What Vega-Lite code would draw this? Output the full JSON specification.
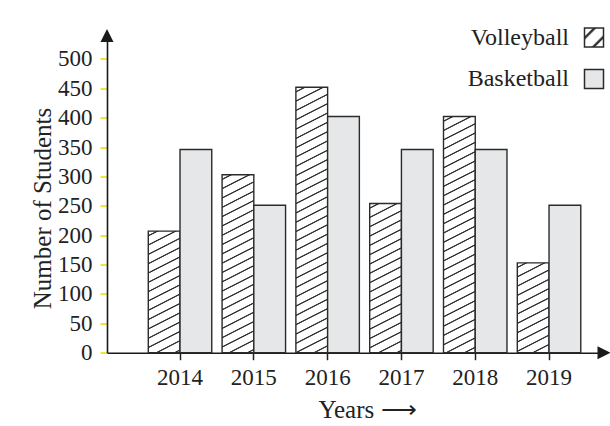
{
  "$schema": "https://vega.github.io/schema/vega-lite/v6.json",
  "width": 497,
  "height": 317.2,
  "autosize": {"type": "none"},
  "padding": {"left": 107, "top": 35.5, "right": 6, "bottom": 73.3},
  "background": "white",
  "params": [
    {"name": "hatchStops", "value": [
      {"offset":0.0119,"color":"#fff"},{"offset":0.0144,"color":"#333"},{"offset":0.0169,"color":"#333"},{"offset":0.0194,"color":"#fff"},
      {"offset":0.0431,"color":"#fff"},{"offset":0.0456,"color":"#333"},{"offset":0.0481,"color":"#333"},{"offset":0.0506,"color":"#fff"},
      {"offset":0.0744,"color":"#fff"},{"offset":0.0769,"color":"#333"},{"offset":0.0794,"color":"#333"},{"offset":0.0819,"color":"#fff"},
      {"offset":0.1056,"color":"#fff"},{"offset":0.1081,"color":"#333"},{"offset":0.1106,"color":"#333"},{"offset":0.1131,"color":"#fff"},
      {"offset":0.1369,"color":"#fff"},{"offset":0.1394,"color":"#333"},{"offset":0.1419,"color":"#333"},{"offset":0.1444,"color":"#fff"},
      {"offset":0.1681,"color":"#fff"},{"offset":0.1706,"color":"#333"},{"offset":0.1731,"color":"#333"},{"offset":0.1756,"color":"#fff"},
      {"offset":0.1994,"color":"#fff"},{"offset":0.2019,"color":"#333"},{"offset":0.2044,"color":"#333"},{"offset":0.2069,"color":"#fff"},
      {"offset":0.2306,"color":"#fff"},{"offset":0.2331,"color":"#333"},{"offset":0.2356,"color":"#333"},{"offset":0.2381,"color":"#fff"},
      {"offset":0.2619,"color":"#fff"},{"offset":0.2644,"color":"#333"},{"offset":0.2669,"color":"#333"},{"offset":0.2694,"color":"#fff"},
      {"offset":0.2931,"color":"#fff"},{"offset":0.2956,"color":"#333"},{"offset":0.2981,"color":"#333"},{"offset":0.3006,"color":"#fff"},
      {"offset":0.3244,"color":"#fff"},{"offset":0.3269,"color":"#333"},{"offset":0.3294,"color":"#333"},{"offset":0.3319,"color":"#fff"},
      {"offset":0.3556,"color":"#fff"},{"offset":0.3581,"color":"#333"},{"offset":0.3606,"color":"#333"},{"offset":0.3631,"color":"#fff"},
      {"offset":0.3869,"color":"#fff"},{"offset":0.3894,"color":"#333"},{"offset":0.3919,"color":"#333"},{"offset":0.3944,"color":"#fff"},
      {"offset":0.4181,"color":"#fff"},{"offset":0.4206,"color":"#333"},{"offset":0.4231,"color":"#333"},{"offset":0.4256,"color":"#fff"},
      {"offset":0.4494,"color":"#fff"},{"offset":0.4519,"color":"#333"},{"offset":0.4544,"color":"#333"},{"offset":0.4569,"color":"#fff"},
      {"offset":0.4806,"color":"#fff"},{"offset":0.4831,"color":"#333"},{"offset":0.4856,"color":"#333"},{"offset":0.4881,"color":"#fff"},
      {"offset":0.5119,"color":"#fff"},{"offset":0.5144,"color":"#333"},{"offset":0.5169,"color":"#333"},{"offset":0.5194,"color":"#fff"},
      {"offset":0.5431,"color":"#fff"},{"offset":0.5456,"color":"#333"},{"offset":0.5481,"color":"#333"},{"offset":0.5506,"color":"#fff"},
      {"offset":0.5744,"color":"#fff"},{"offset":0.5769,"color":"#333"},{"offset":0.5794,"color":"#333"},{"offset":0.5819,"color":"#fff"},
      {"offset":0.6056,"color":"#fff"},{"offset":0.6081,"color":"#333"},{"offset":0.6106,"color":"#333"},{"offset":0.6131,"color":"#fff"},
      {"offset":0.6369,"color":"#fff"},{"offset":0.6394,"color":"#333"},{"offset":0.6419,"color":"#333"},{"offset":0.6444,"color":"#fff"},
      {"offset":0.6681,"color":"#fff"},{"offset":0.6706,"color":"#333"},{"offset":0.6731,"color":"#333"},{"offset":0.6756,"color":"#fff"},
      {"offset":0.6994,"color":"#fff"},{"offset":0.7019,"color":"#333"},{"offset":0.7044,"color":"#333"},{"offset":0.7069,"color":"#fff"},
      {"offset":0.7306,"color":"#fff"},{"offset":0.7331,"color":"#333"},{"offset":0.7356,"color":"#333"},{"offset":0.7381,"color":"#fff"},
      {"offset":0.7619,"color":"#fff"},{"offset":0.7644,"color":"#333"},{"offset":0.7669,"color":"#333"},{"offset":0.7694,"color":"#fff"},
      {"offset":0.7931,"color":"#fff"},{"offset":0.7956,"color":"#333"},{"offset":0.7981,"color":"#333"},{"offset":0.8006,"color":"#fff"},
      {"offset":0.8244,"color":"#fff"},{"offset":0.8269,"color":"#333"},{"offset":0.8294,"color":"#333"},{"offset":0.8319,"color":"#fff"},
      {"offset":0.8556,"color":"#fff"},{"offset":0.8581,"color":"#333"},{"offset":0.8606,"color":"#333"},{"offset":0.8631,"color":"#fff"},
      {"offset":0.8869,"color":"#fff"},{"offset":0.8894,"color":"#333"},{"offset":0.8919,"color":"#333"},{"offset":0.8944,"color":"#fff"},
      {"offset":0.9181,"color":"#fff"},{"offset":0.9206,"color":"#333"},{"offset":0.9231,"color":"#333"},{"offset":0.9256,"color":"#fff"},
      {"offset":0.9494,"color":"#fff"},{"offset":0.9519,"color":"#333"},{"offset":0.9544,"color":"#333"},{"offset":0.9569,"color":"#fff"},
      {"offset":0.9806,"color":"#fff"},{"offset":0.9831,"color":"#333"},{"offset":0.9856,"color":"#333"},{"offset":0.9881,"color":"#fff"}
    ]},
    {"name": "legendStops", "value": [
      {"offset":0.2,"color":"#fff"},{"offset":0.25,"color":"#333"},{"offset":0.29,"color":"#333"},{"offset":0.34,"color":"#fff"},
      {"offset":0.66,"color":"#fff"},{"offset":0.71,"color":"#333"},{"offset":0.75,"color":"#333"},{"offset":0.8,"color":"#fff"}
    ]}
  ],
  "data": {"values": [
    {"year": "2014", "sport": "Volleyball", "students": 207},
    {"year": "2014", "sport": "Basketball", "students": 346},
    {"year": "2015", "sport": "Volleyball", "students": 303},
    {"year": "2015", "sport": "Basketball", "students": 251},
    {"year": "2016", "sport": "Volleyball", "students": 452},
    {"year": "2016", "sport": "Basketball", "students": 402},
    {"year": "2017", "sport": "Volleyball", "students": 254},
    {"year": "2017", "sport": "Basketball", "students": 346},
    {"year": "2018", "sport": "Volleyball", "students": 402},
    {"year": "2018", "sport": "Basketball", "students": 346},
    {"year": "2019", "sport": "Volleyball", "students": 153},
    {"year": "2019", "sport": "Basketball", "students": 251}
  ]},
  "layer": [
    {
      "mark": {
        "type": "bar",
        "strokeWidth": 1.4,
        "fill": {"expr": "datum.sport === 'Volleyball' ? {gradient: 'linear', x1: 0, y1: 0, x2: 265.6*14.41/(207.7 + pow(0.891*(scale('y',0)-scale('y',datum.students)),2)), y2: 265.6*0.891*(scale('y',0)-scale('y',datum.students))/(207.7 + pow(0.891*(scale('y',0)-scale('y',datum.students)),2)), stops: hatchStops} : datum.value === 'Volleyball' ? {gradient: 'linear', x1: 0, y1: 0, x2: 1, y2: 1, stops: legendStops} : '#e6e7e8'"}
      },
      "encoding": {
        "x": {
          "field": "year", "type": "nominal",
          "scale": {"paddingInner": 0.14, "paddingOuter": 0.437, "align": 0.64},
          "axis": {
            "title": "Years ⟶",
            "labelAngle": 0,
            "labelFont": "Liberation Serif", "labelFontSize": 23, "labelColor": "#222",
            "labelBaseline": "alphabetic", "labelPadding": 25,
            "tickColor": "#222", "tickSize": 7, "tickWidth": 1.5,
            "domainColor": "#1a1a1a", "domainWidth": 1.6,
            "titleFont": "Liberation Serif", "titleFontSize": 25, "titleFontWeight": "normal", "titleColor": "#222",
            "titleX": 260, "titleY": 65, "titleBaseline": "alphabetic", "titleAlign": "center"
          }
        },
        "xOffset": {"field": "sport", "type": "nominal", "scale": {"domain": ["Volleyball", "Basketball"]}},
        "y": {
          "field": "students", "type": "quantitative", "stack": null,
          "scale": {"domain": [0, 540], "nice": false},
          "axis": {"title": "Number of Students", "values": [0, 50, 100, 150, 200, 250, 300, 350, 400, 450, 500], "tickCount": 11, "labelOverlap": false}
        },
        "stroke": {
          "field": "sport", "type": "nominal",
          "scale": {"domain": ["Volleyball", "Basketball"], "range": ["#2b2b2b", "#2b2b2b"]},
          "legend": {
            "title": null,
            "orient": "none", "legendX": 475, "legendY": -10,
            "padding": 0,
            "labelAlign": "right", "labelOffset": -37,
            "labelFont": "Liberation Serif", "labelFontSize": 24, "labelColor": "#222",
            "rowPadding": 15.5,
            "symbolType": "square", "symbolSize": 361, "symbolStrokeWidth": 1.5
          }
        }
      }
    },
    {
      "data": {"values": [{}]},
      "mark": {"type": "point", "shape": "M-1,1L0,-1L1,1Z", "size": 169, "filled": true, "color": "#1a1a1a", "opacity": 1, "strokeWidth": 0},
      "encoding": {
        "x": {"datum": 0, "type": "quantitative", "scale": {"domain": [0, 1], "nice": false}, "axis": null},
        "y": {"datum": 540, "type": "quantitative", "axis": {"title": "Number of Students", "values": [0, 50, 100, 150, 200, 250, 300, 350, 400, 450, 500], "tickCount": 11, "labelOverlap": false}}
      }
    },
    {
      "data": {"values": [{}]},
      "mark": {"type": "point", "shape": "M-1,-1L1,0L-1,1Z", "size": 169, "filled": true, "color": "#1a1a1a", "opacity": 1, "strokeWidth": 0},
      "encoding": {
        "x": {"datum": 1, "type": "quantitative", "scale": {"domain": [0, 1], "nice": false}, "axis": null},
        "y": {"datum": 0, "type": "quantitative", "axis": {"title": "Number of Students", "values": [0, 50, 100, 150, 200, 250, 300, 350, 400, 450, 500], "tickCount": 11, "labelOverlap": false}}
      }
    }
  ],
  "resolve": {"scale": {"x": "independent"}},
  "config": {
    "view": {"stroke": null},
    "axisY": {
      "grid": false,
      "labelOverlap": false,
      "labelFont": "Liberation Serif", "labelFontSize": 23, "labelColor": "#222", "labelPadding": 8,
      "tickColor": "#efe000", "tickSize": 7, "tickWidth": 1.6,
      "domainColor": "#1a1a1a", "domainWidth": 1.6,
      "titleFont": "Liberation Serif", "titleFontSize": 25, "titleFontWeight": "normal", "titleColor": "#222",
      "titleX": -57, "titleY": 172.5, "titleAngle": 270, "titleBaseline": "alphabetic", "titleAlign": "center"
    }
  }
}
